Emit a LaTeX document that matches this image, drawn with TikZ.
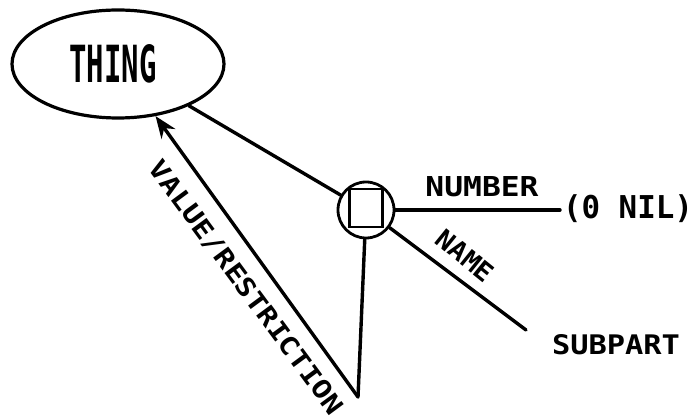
\documentclass[tikz,border=0pt]{standalone}
\usepackage{fontspec}
\setmonofont{DejaVu Sans Mono}
\usetikzlibrary{arrows.meta,shapes.geometric}
\newcommand{\lbl}[3]{\resizebox{#1pt}{#2pt}{\ttfamily\bfseries #3}}
\newcommand{\lblt}[3]{\resizebox*{#1pt}{#2pt}{\ttfamily\bfseries #3}}
\begin{document}
\begin{tikzpicture}[x=1pt,y=-1pt,
  conn/.style={line width=3.4pt, line cap=round},
  txt/.style={inner sep=0pt}]
\useasboundingbox (0,0) rectangle (696,419);
\node[draw, ellipse, minimum width=212pt, minimum height=108pt, inner sep=0pt, line width=3.2pt] (thing) at (118,64) {};
\node[txt] (thinglbl) at (113,64) {\lbl{87}{38}{THING}};
\node[draw, circle, minimum size=56pt, inner sep=0pt, line width=2.8pt] (hub) at (366,210) {};
\node[draw, rectangle, minimum width=33pt, minimum height=38pt, inner sep=0pt, line width=2.6pt] (hubsq) at (366,208) {};
\coordinate (numend) at (560,210);
\coordinate (nameend) at (526,330);
\coordinate (vr) at (358,397);
\draw[conn] (thing) -- (hub);
\draw[conn] (hub.east) -- (numend);
\draw[conn] (hub) -- (nameend);
\draw[conn] (hub) -- (vr);
\draw[conn, -{Stealth[length=22pt,width=17pt]}] (vr) -- (thing);
\node[txt] (numlbl) at (482,187) {\lbl{113}{20}{NUMBER}};
\node[txt] (nil) at (628,209) {\lblt{130}{28}{(0 NIL)}};
\node[txt, rotate=-39] (namelbl) at (465,256) {\lbl{66}{19}{NAME}};
\node[txt] (subpart) at (616,345) {\lbl{128}{20}{SUBPART}};
\node[txt, rotate=-53.6] (vrlbl) at (246,288) {\lbl{308}{19}{VALUE/RESTRICTION}};
\end{tikzpicture}
\end{document}
